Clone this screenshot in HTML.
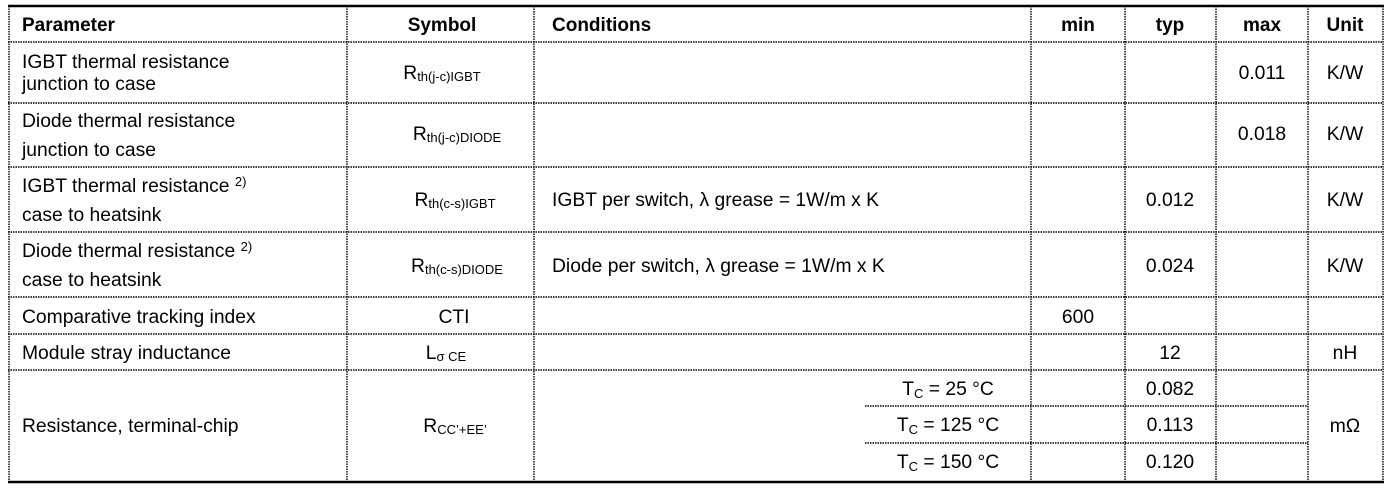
<!DOCTYPE html>
<html><head><meta charset="utf-8"><style>
html,body{margin:0;padding:0;background:#fff;}
svg{display:block}
text{font-family:"Liberation Sans","DejaVu Sans",sans-serif;font-size:19.3px;fill:#000}
.b{font-weight:bold;font-size:19px}
.s{font-size:13px}
.d{stroke:#000;stroke-width:1.4;stroke-dasharray:1.5 1}
</style></head><body>
<svg width="1390" height="490" viewBox="0 0 1390 490">
<g class="d">
<line x1="8" y1="42" x2="1383" y2="42"/>
<line x1="8" y1="103" x2="1383" y2="103"/>
<line x1="8" y1="167" x2="1383" y2="167"/>
<line x1="8" y1="232" x2="1383" y2="232"/>
<line x1="8" y1="297" x2="1383" y2="297"/>
<line x1="8" y1="334" x2="1383" y2="334"/>
<line x1="8" y1="370" x2="1383" y2="370"/>
<line x1="865" y1="406" x2="1308" y2="406"/>
<line x1="865" y1="443" x2="1308" y2="443"/>
<line x1="9" y1="6" x2="9" y2="482"/>
<line x1="347" y1="6" x2="347" y2="482"/>
<line x1="534" y1="6" x2="534" y2="482"/>
<line x1="1031" y1="6" x2="1031" y2="482"/>
<line x1="1125" y1="6" x2="1125" y2="482"/>
<line x1="1216" y1="6" x2="1216" y2="482"/>
<line x1="1308" y1="6" x2="1308" y2="482"/>
<line x1="1383" y1="6" x2="1383" y2="482"/>
</g>
<line x1="8" y1="6" x2="1384" y2="6" stroke="#000" stroke-width="2.5"/>
<line x1="8" y1="482" x2="1384" y2="482" stroke="#000" stroke-width="2.5"/>

<text class="b" x="22" y="31">Parameter</text>
<text class="b" x="442" y="31" text-anchor="middle">Symbol</text>
<text class="b" x="552" y="31">Conditions</text>
<text class="b" x="1078" y="31" text-anchor="middle">min</text>
<text class="b" x="1170" y="31" text-anchor="middle">typ</text>
<text class="b" x="1262" y="31" text-anchor="middle">max</text>
<text class="b" x="1345" y="31" text-anchor="middle">Unit</text>

<text x="22" y="68">IGBT thermal resistance</text>
<text x="22" y="90">junction to case</text>
<text x="442" y="79" text-anchor="middle">R<tspan class="s" dy="2">th(j-c)IGBT</tspan></text>
<text x="1262" y="79" text-anchor="middle">0.011</text>
<text x="1345" y="79" text-anchor="middle">K/W</text>

<text x="22" y="127">Diode thermal resistance</text>
<text x="22" y="156">junction to case</text>
<text x="457" y="140" text-anchor="middle">R<tspan class="s" dy="2">th(j-c)DIODE</tspan></text>
<text x="1262" y="140" text-anchor="middle">0.018</text>
<text x="1345" y="140" text-anchor="middle">K/W</text>

<text x="22" y="192">IGBT thermal resistance <tspan class="s" dy="-6">2)</tspan></text>
<text x="22" y="221">case to heatsink</text>
<text x="455" y="206" text-anchor="middle">R<tspan class="s" dy="2">th(c-s)IGBT</tspan></text>
<text x="552" y="206">IGBT per switch, λ grease = 1W/m x K</text>
<text x="1170" y="206" text-anchor="middle">0.012</text>
<text x="1345" y="206" text-anchor="middle">K/W</text>

<text x="22" y="257">Diode thermal resistance <tspan class="s" dy="-6">2)</tspan></text>
<text x="22" y="286">case to heatsink</text>
<text x="457" y="272" text-anchor="middle">R<tspan class="s" dy="2">th(c-s)DIODE</tspan></text>
<text x="552" y="272">Diode per switch, λ grease = 1W/m x K</text>
<text x="1170" y="272" text-anchor="middle">0.024</text>
<text x="1345" y="272" text-anchor="middle">K/W</text>

<text x="22" y="323">Comparative tracking index</text>
<text x="454" y="323" text-anchor="middle">CTI</text>
<text x="1078" y="323" text-anchor="middle">600</text>

<text x="22" y="359">Module stray inductance</text>
<text x="446" y="359" text-anchor="middle">L<tspan class="s" dy="2">σ CE</tspan></text>
<text x="1170" y="359" text-anchor="middle">12</text>
<text x="1345" y="359" text-anchor="middle">nH</text>

<text x="22" y="432">Resistance, terminal-chip</text>
<text x="455" y="432" text-anchor="middle">R<tspan class="s" dy="2">CC’+EE’</tspan></text>
<text x="948" y="395" text-anchor="middle">T<tspan class="s" dy="3">C</tspan><tspan dy="-3"> = 25 °C</tspan></text>
<text x="948" y="431" text-anchor="middle">T<tspan class="s" dy="3">C</tspan><tspan dy="-3"> = 125 °C</tspan></text>
<text x="948" y="468" text-anchor="middle">T<tspan class="s" dy="3">C</tspan><tspan dy="-3"> = 150 °C</tspan></text>
<text x="1170" y="395" text-anchor="middle">0.082</text>
<text x="1170" y="431" text-anchor="middle">0.113</text>
<text x="1170" y="468" text-anchor="middle">0.120</text>
<text x="1345" y="432" text-anchor="middle">mΩ</text>
</svg>
</body></html>
